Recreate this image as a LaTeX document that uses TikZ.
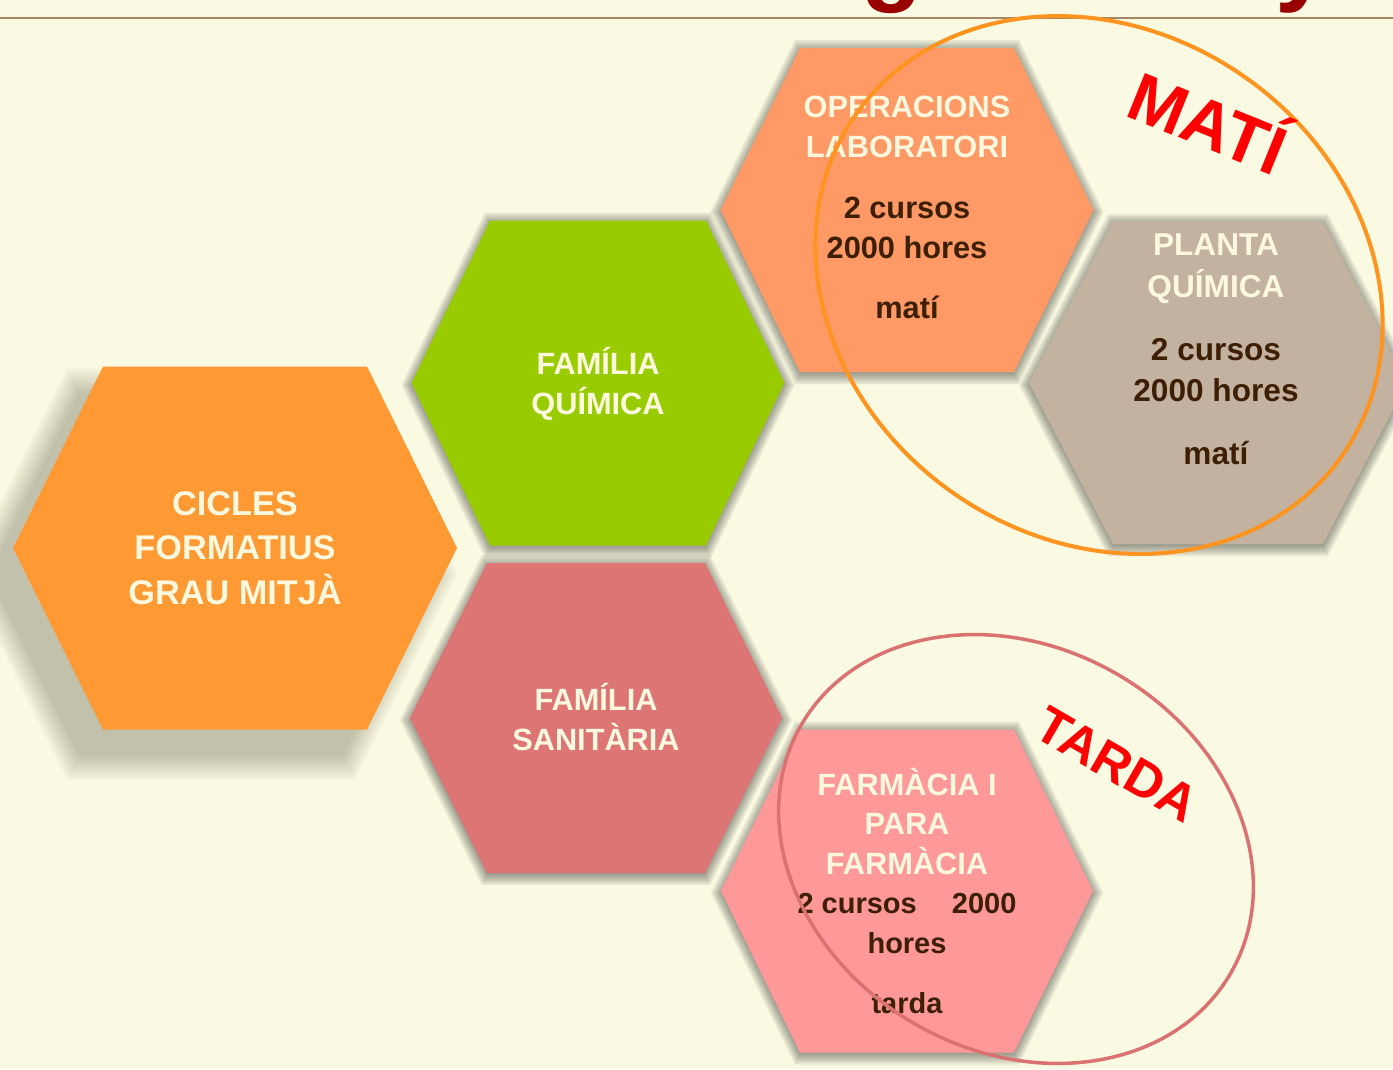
\documentclass[tikz,border=0pt]{standalone}
\usepackage{fontspec}
\setmainfont{Liberation Sans}
\usetikzlibrary{positioning}

\definecolor{bgcream}{RGB}{250,250,226}
\definecolor{rulebrown}{RGB}{164,134,100}
\definecolor{titlered}{RGB}{153,0,0}
\definecolor{cicorange}{RGB}{255,153,51}
\definecolor{quigreen}{RGB}{153,204,0}
\definecolor{sanrose}{RGB}{221,117,117}
\definecolor{opesalmon}{RGB}{255,153,102}
\definecolor{platan}{RGB}{196,178,160}
\definecolor{farpink}{RGB}{255,153,153}
\definecolor{textcream}{RGB}{252,248,222}
\definecolor{textbrown}{RGB}{61,31,6}
\definecolor{matiorange}{RGB}{255,148,32}
\definecolor{tardarose}{RGB}{219,114,114}

% hexagon: centre x, centre y, half width, half top edge, half height
\newcommand{\hexcell}[5]{({(#1)-(#3)},{#2}) -- ({(#1)-(#4)},{(#2)-(#5)}) -- ({(#1)+(#4)},{(#2)-(#5)}) -- ({(#1)+(#3)},{#2}) -- ({(#1)+(#4)},{(#2)+(#5)}) -- ({(#1)-(#4)},{(#2)+(#5)}) -- cycle}
% soft shadow: same as above, then offset x, offset y, step, blur, style
\newcommand{\hexshadow}[9]{%
  \foreach \s in {0,#8,...,\shadowmax}
    \fill[#9] \hexcell{(#1)+(#6)}{(#2)+(#7)}{(#3)+\s}{(#4)+0.5*\s}{(#5)+\s};}
\newcommand{\shadowmax}{12}
\newcommand{\brn}[1]{\textcolor{textbrown}{#1}}

\tikzset{
  bigshade/.style={fill=black!75!olive, fill opacity=0.034},
  hexshade/.style={fill=black!85, fill opacity=0.085},
  hexhead/.style={anchor=base, inner sep=0pt, align=center, text=textcream,
    font=\bfseries\fontsize{17.5}{22.5}\selectfont},
  cichead/.style={hexhead, font=\bfseries\fontsize{19.5}{25.2}\selectfont},
  ringlabel/.style={anchor=base, inner sep=0pt, text=red, font=\bfseries\fontsize{39}{39}\selectfont},
  matiring/.style={draw=matiorange, line width=2.3pt},
  tardaring/.style={draw=tardarose, line width=2pt},
  titlefrag/.style={anchor=base, inner sep=0pt, text=titlered, font=\bfseries\fontsize{57}{57}\selectfont}
}

\begin{document}
\begin{tikzpicture}[x=0.02cm, y=-0.02cm]
  \useasboundingbox (0,0) rectangle (1393,1069);
  \fill[bgcream] (0,0) rectangle (1393,1069);

  % title remains and rule
  \node[titlefrag] (tg) at (892,-8) {g};
  \node[titlefrag] (ty) at (1303,-8) {y};
  \coordinate (ruleL) at (0,18);
  \coordinate (ruleR) at (1393,18);
  \draw[rulebrown, line width=1.7pt] (ruleL) -- (ruleR);

  % shadows
  \renewcommand{\shadowmax}{24}
  \hexshadow{235}{548}{222}{132}{181.5}{-24}{26}{3}{bigshade}
  \renewcommand{\shadowmax}{10}
  \hexshadow{598}{383}{186.5}{108}{162.5}{0}{2}{2}{hexshade}
  \hexshadow{596}{718}{186}{109}{155}{0}{2}{2}{hexshade}
  \hexshadow{907}{210}{186.5}{107}{162}{0}{2}{2}{hexshade}
  \hexshadow{1218}{383}{189}{105}{161}{0}{2}{2}{hexshade}
  \hexshadow{907}{891}{186}{107}{161.5}{0}{2}{2}{hexshade}

  % hexagons
  \fill[cicorange] \hexcell{235}{548}{222}{132}{181.5};
  \fill[quigreen] \hexcell{598}{383}{186.5}{108}{162.5};
  \fill[sanrose] \hexcell{596}{718}{186}{109}{155};
  \fill[opesalmon] \hexcell{907}{210}{186.5}{107}{162};
  \fill[platan] \hexcell{1218}{383}{189}{105}{161};
  \fill[farpink] \hexcell{907}{891}{186}{107}{161.5};

  % texts (anchored at the last line)
  \node[cichead] (cic) at (235,604) {CICLES\\FORMATIUS\\GRAU MITJÀ};
  \node[hexhead] (qui) at (598,414) {FAMÍLIA\\QUÍMICA};
  \node[hexhead] (san) at (596,750) {FAMÍLIA\\SANITÀRIA};
  \node[hexhead] (ope) at (907,318)
    {OPERACIONS\\LABORATORI\\[12.5pt]\brn{2 cursos}\\\brn{2000 hores}\\[11.5pt]\brn{matí}};
  \node[hexhead, font=\bfseries\fontsize{18}{23.5}\selectfont] (pla) at (1216,464)
    {PLANTA\\QUÍMICA\\[12.5pt]\brn{2 cursos}\\\brn{2000 hores}\\[12pt]\brn{matí}};
  \node[hexhead, font=\bfseries\fontsize{17.5}{22.5}\selectfont] (far) at (907,1013)
    {FARMÀCIA I\\PARA\\FARMÀCIA\\\brn{\fontsize{16.5}{21}\selectfont 2 cursos\hspace{20pt}2000}\\\brn{\fontsize{16.5}{21}\selectfont hores}\\[11.5pt]\brn{\fontsize{16.5}{21}\selectfont tarda}};

  % timetable rings
  \draw[matiring, rotate around={-35:(1099,285)}] (1099,285) ellipse [x radius=297, y radius=254];
  \draw[tardaring, rotate around={-30:(1016,849)}] (1016,849) ellipse [x radius=248, y radius=202];
  \node[ringlabel, rotate=-22] (mati) at (1199,146) {MATÍ};
  \node[ringlabel, rotate=-30, font=\bfseries\fontsize{29.5}{29.5}\selectfont] (tarda) at (1108,780) {TARDA};
\end{tikzpicture}
\end{document}
